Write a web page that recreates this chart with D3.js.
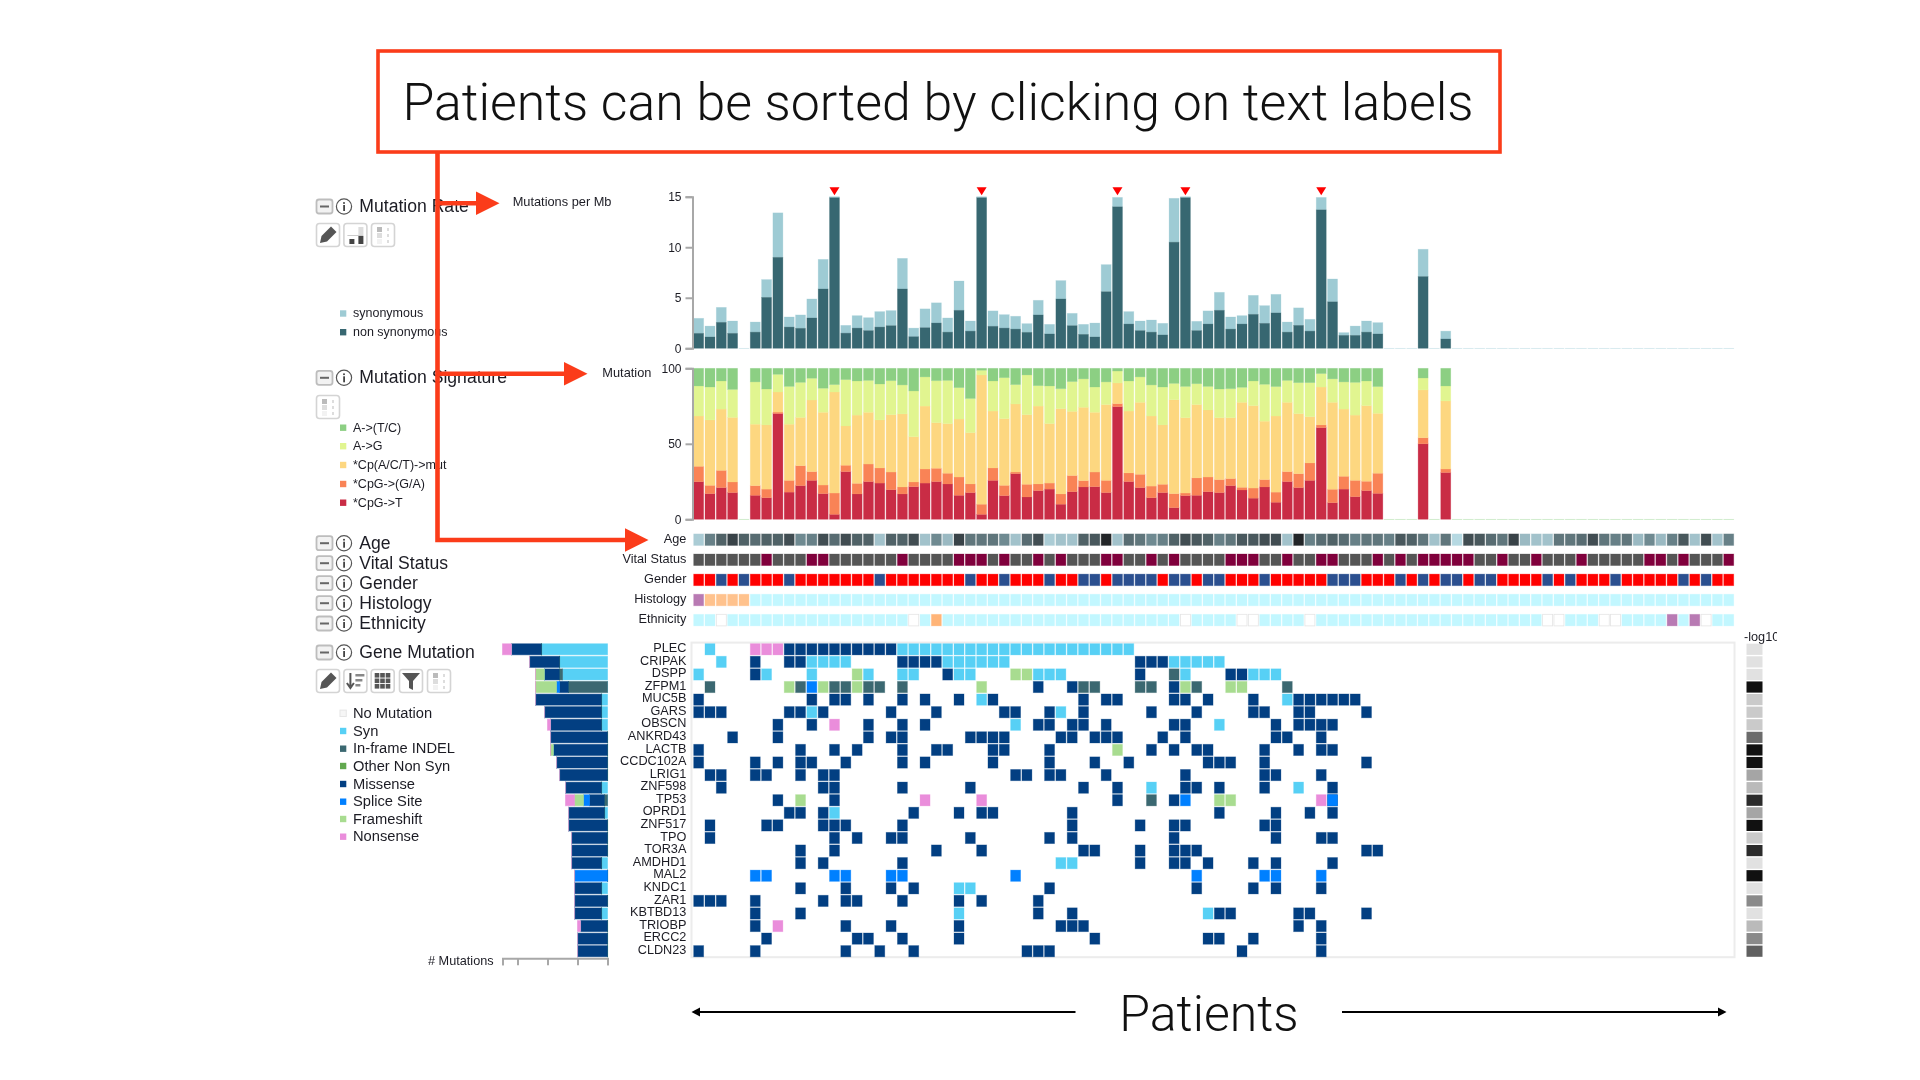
<!DOCTYPE html>
<html><head><meta charset="utf-8">
<script src="https://cdn.jsdelivr.net/npm/d3@7/dist/d3.min.js"></script>
<style>html,body{margin:0;padding:0;background:#fff}svg{display:block}text{font-family:"Liberation Sans",Arial,sans-serif;fill:#1c1c24}.ov text{font-family:Roboto,"Liberation Sans",sans-serif;font-weight:300;fill:#111}</style>
</head><body><div id="c"></div>
<script>
// ---------- data ----------
const patientCount = 92;
const rateNonSyn = [1.48,1.12,2.57,1.48,0,1.6,5.04,9.0,2.1,1.98,3.0,5.87,14.9,1.5,2.0,1.75,2.1,2.24,5.87,1.15,2.04,2.5,1.6,3.76,1.7,14.9,2.18,2.0,1.9,1.58,3.3,1.42,4.88,2.24,1.38,1.12,5.6,14.0,2.4,1.75,1.6,1.32,10.5,14.9,1.75,2.4,3.76,1.9,2.4,3.36,2.47,3.5,1.6,2.27,1.7,13.7,4.6,1.28,1.28,1.6,1.42,0,0,0,7.1,0,0.92];
const rateTotal = [2.97,2.2,4.05,2.7,0,2.6,6.8,13.4,3.1,3.3,4.88,8.8,15,2.27,3.23,3.03,3.63,3.73,8.9,2.0,3.9,4.5,3.0,6.66,2.7,15,3.7,3.33,3.17,2.44,4.75,2.37,6.7,3.46,2.37,2.5,8.28,14.93,3.63,2.7,2.8,2.47,14.84,15,2.67,3.7,5.54,3.1,3.23,5.24,4.22,5.34,2.6,4.0,2.87,14.93,6.86,1.55,2.2,2.7,2.54,0,0,0,9.8,0,1.7];
const hyperMutated = [12,25,37,43,55];
const sigCumCpGT = [24.9,17,21,17.7,0,15.9,14.3,70,18,22.3,25.8,17,3.3,31.6,16.8,25,24,19.6,16.8,21.6,24,25,23.4,15.9,17.7,3.3,25.8,15.7,30.2,14.8,19,20,10,18.3,21.4,21.6,17.7,74.6,25,21,14.3,17.7,7.7,15.7,15.9,18.3,17.7,22.3,19.4,14,21.4,11.3,25,21,25.8,60.7,11,20,15,19,17.2,0,0,0,50,0,31];
const sigCumCpGGA = [35.1,22.5,32.4,24.7,0,22.3,20,71,25.8,35.5,31.6,22.7,17.4,35.8,23.8,36.6,34,31.3,21.4,24.7,33.3,33.8,30.5,28,23.4,10,34,22.5,31.3,23.2,23.4,24,16.8,29,25.6,31.3,25.8,76.6,30.7,29.8,22,23.2,17,17.4,27.4,28,26.3,27,21.2,20.7,26.3,18,31.6,30.2,37.3,62.5,19.9,28.5,25.8,25.2,30.5,0,0,0,54,0,33.3];
const sigCumCpMut = [68.4,65.8,73,67.5,0,63,62.5,84.3,63,67.5,79,70.9,84.3,61.8,69,70.9,65.8,69.3,69.8,54.7,75,64,63.4,66.4,57.4,95.6,71.7,66.7,76.4,69.3,75,63.4,73.3,71.5,74.2,70.9,76,90.3,71.7,77.5,68.4,62.5,79.2,67.3,76,72.4,67.3,67.3,77.5,75.3,65,68.4,77.5,70,68,87.6,77.5,73,69,75.3,70.2,0,0,0,85.7,0,78.4];
const sigCumAG = [88.3,87.6,91.6,86,0,91,86.3,96,88,90.7,93.4,86.8,89.2,92.5,91.6,92,89.6,91.8,89,85,94.3,91.8,92,87.2,80,98.7,91.6,93.8,89.2,95.6,88.5,88.3,86.5,91.2,93,87.6,91,98.2,91.6,94.3,89,87.6,90,88,89.8,88,86.3,86.5,87.4,91.6,89.4,87.9,92,90.5,90.5,96.5,93,91,90.7,91.6,87.9,0,0,0,93.6,0,88.3];
const ageShade = [.15,.55,.7,.85,.7,.65,.7,.7,.8,.5,.55,.8,.65,.8,.7,.7,.2,.7,.7,.8,.2,.5,.25,.85,.6,.6,.6,.5,.2,.65,.8,.15,.2,.2,.7,.75,1,.2,.65,.6,.5,.55,.7,.8,.75,.7,.55,.6,.75,.75,.8,.8,.2,1,.55,.65,.7,.65,.55,.6,.6,.55,.75,.7,.6,.2,.6,.08,.8,.75,.65,.6,.85,.25,.2,.2,.6,.6,.65,.8,.6,.55,.6,.25,.5,.25,.55,.75,.2,.8,.2,.55];
const vitalDeceased = [6,10,11,18,23,24,25,27,30,32,36,37,40,42,47,48,49,52,55,56,60,62,64,65,66,67,68,71,74,78,84,85,87,91];
const genderMale = [2,4,8,16,24,27,31,34,35,37,38,39,40,42,43,45,46,50,56,57,58,62,64,66,67,69,70,75,77,81,87,89];
const histologyPurple = [0];
const histologyPeach = [1,2,3,4];
const ethnicityBlank = [2,19,43,48,49,54,75,76,80,81,89];
const ethnicityPeach = [21];
const ethnicityPurple = [86,88];
const annotationRows = ["Age","Vital Status","Gender","Histology","Ethnicity"];
const genes = ["PLEC","CRIPAK","DSPP","ZFPM1","MUC5B","GARS","OBSCN","ANKRD43","LACTB","CCDC102A","LRIG1","ZNF598","TP53","OPRD1","ZNF517","TPO","TOR3A","AMDHD1","MAL2","KNDC1","ZAR1","KBTBD13","TRIOBP","ERCC2","CLDN23"];
// S syn, I in-frame indel, O other, M missense, P splice site, F frameshift, N nonsense; "type:col,col,..."
const geneMutations = [
"S:1,18,19,20,21,22,23,24,25,26,27,28,29,30,31,32,33,34,35,36,37,38 N:5,6,7 M:8,9,10,11,12,13,14,15,16,17",
"S:2,10,11,12,13,22,23,24,25,26,27,42,43,44,45,46 M:5,8,9,18,19,20,21,39,40,41",
"S:0,6,10,15,18,19,23,24,30,31,32,43,49,50,51 M:5,22,39,47,48 F:14,28,29 I:42",
"I:1,9,12,13,15,16,18,34,35,39,40,44,52 F:8,11,14,25,43,47,48 P:10 M:30,33,42",
"M:0,10,12,13,15,18,20,23,26,34,36,37,42,43,45,49,53,54,55,56,57,58 S:25,52",
"M:0,1,2,8,9,11,17,21,27,28,31,34,40,44,49,50,53,54,59 S:10,32",
"M:7,10,15,18,20,30,31,33,34,36,42,43,51,53,54,55,56 N:12 S:28,46",
"M:3,7,15,17,18,24,25,26,27,32,33,35,36,37,41,43,51,52,55",
"M:0,9,12,14,18,21,22,26,27,31,40,42,44,45,50,53,55,56 F:37",
"M:0,5,7,9,10,13,18,20,26,31,35,38,45,46,47,50,59",
"M:1,2,5,6,9,11,12,28,29,31,32,36,43,50,51,55",
"M:2,11,12,18,24,34,37,43,44,46,50,56 S:40,53",
"M:7,12,37,42,56 F:9,46,47 N:20,25,55 I:40 P:43,56",
"M:8,9,11,19,23,25,26,33,46,51,54,56 S:12",
"M:1,6,7,11,12,13,18,33,39,42,43,50,51",
"M:1,12,14,17,18,24,31,33,42,51,55,56",
"M:9,12,21,25,34,35,39,42,43,44,59,60",
"M:9,11,18,39,42,43,45,49,51,56 S:32,33",
"P:5,6,12,13,17,18,28,44,50,51,55",
"M:9,13,17,19,31,44,49,51,55 S:23,24",
"M:0,1,2,5,11,13,14,18,23,25,30",
"M:5,9,30,33,46,47,53,54,59 S:23,45",
"M:5,13,17,23,32,33,34,53,55 N:7",
"M:6,14,15,18,23,35,45,46,49,55",
"M:0,5,13,16,19,29,30,31,48,55"
];
const minusLog10 = [.1,.1,.1,8,1,1,1,4.6,8,8,2.4,1.6,7,2.4,8,1,7,.1,8,.1,3.4,.1,1.6,3.4,5];
const mutationTypes = ["S","I","O","M","P","F","N"];
const mutationColors = ["#57d0f5","#3b6871","#62a84f","#023f82","#0080ff","#a8dc90","#ea8ddb"];
const mutationLegend = ["No Mutation","Syn","In-frame INDEL","Other Non Syn","Missense","Splice Site","Frameshift","Nonsense"];
const mutationLegendColors = ["#f6f6f6","#57d0f5","#3b6871","#62a84f","#023f82","#0080ff","#a8dc90","#ea8ddb"];
const rateLegend = ["synonymous","non synonymous"];
const rateColors = ["#9ecbd4","#376771"];
const sigLegend = ["A->(T/C)","A->G","*Cp(A/C/T)->mut","*CpG->(G/A)","*CpG->T"];
const sigColors = ["#8ccf83","#e1f590","#fdd780","#f98356","#c92c45"];
const mutationCountTicks = [35,30,20,10,0];

// ---------- helpers ----------
const W = 1920, H = 1080;
const svg = d3.select("#c").append("svg").attr("width",W).attr("height",H);
svg.append("defs").append("clipPath").attr("id","logclip").append("rect").attr("x",1740).attr("y",625).attr("width",37).attr("height",24);
const chart = svg.append("g").style("filter","blur(0.45px)");
const patients = d3.range(patientCount);
const x = d3.scaleBand().domain(patients).range([693,1734.4]);
const inset = 0.66, cellW = x.bandwidth()-2*inset;
const yRate = d3.scaleLinear().domain([0,15]).range([348.3,196.7]);
const ySig = d3.scaleLinear().domain([0,100]).range([519.3,368.3]);
const yAnn = d3.scaleBand().domain(annotationRows).range([529.65,630.15]);
const yGene = d3.scaleBand().domain(genes).range([643,957.5]);
const xCount = d3.scaleLinear().domain([0,35]).range([607.5,502.5]);
const val = (a,i)=>a[i]===undefined?0:a[i];

function label(g,t,px,py,size,anchor){
  return g.append("text").attr("x",px).attr("y",py).attr("dy",".35em").attr("font-size",size).attr("text-anchor",anchor||"start").text(t);
}
function styleAxis(g){
  g.selectAll(".domain,.tick line").attr("stroke","#a8a8a8").attr("stroke-width",2);
  g.selectAll("text").attr("font-size",12).style("font-family",'"Liberation Sans",sans-serif').attr("fill","#1c1c24");
}
function layer(data,color,y0,y1,scale){
  chart.append("g").selectAll("rect").data(data).join("rect")
    .attr("x",d=>x(d)+inset).attr("width",cellW)
    .attr("y",d=>scale(y1(d))).attr("height",d=>Math.max(0.2,scale(y0(d))-scale(y1(d))))
    .attr("fill",color).attr("stroke",color).attr("stroke-opacity",.35).attr("stroke-width",.7);
}

// ---------- mutation rate ----------
layer(patients,rateColors[0],i=>val(rateNonSyn,i),i=>val(rateTotal,i),yRate);
layer(patients.filter(i=>val(rateNonSyn,i)>0),rateColors[1],()=>0,i=>val(rateNonSyn,i),yRate);
chart.append("g").attr("transform","translate(692.5,0)")
  .call(d3.axisLeft(yRate).tickValues([0,5,10,15]).tickSize(7).tickPadding(4)).call(styleAxis);
chart.append("g").selectAll("path").data(hyperMutated).join("path")
  .attr("d",d=>{const c=x(d)+x.bandwidth()/2,t=yRate(15);return `M${c-5},${t-9.5}L${c+5},${t-9.5}L${c},${t-1.5}Z`;})
  .attr("fill","#ff0000");

// ---------- mutation signature ----------
const present = patients.filter(i=>val(sigCumCpGT,i)>0);
const absent = patients.filter(i=>val(sigCumCpGT,i)===0);
const sigBounds = [()=>0,i=>val(sigCumCpGT,i),i=>val(sigCumCpGGA,i),i=>val(sigCumCpMut,i),i=>val(sigCumAG,i),()=>100];
[4,3,2,1,0].forEach((k,n)=>layer(present,sigColors[k],sigBounds[n],sigBounds[n+1],ySig));
layer(absent,sigColors[0],()=>0,()=>0,ySig);
chart.append("g").attr("transform","translate(692.5,0)")
  .call(d3.axisLeft(ySig).tickValues([0,50,100]).tickSize(7).tickPadding(4)).call(styleAxis);

// ---------- annotation tracks ----------
const ageColor = d3.scaleLinear().domain([0,.5,1]).range(["#c4e8f2","#6f8a91","#222528"]);
const annColor = {
  "Age": i=>ageColor(ageShade[i]),
  "Vital Status": i=>vitalDeceased.includes(i)?"#80003c":"#555555",
  "Gender": i=>genderMale.includes(i)?"#2b4f8f":"#ff0000",
  "Histology": i=>histologyPurple.includes(i)?"#b87ab3":histologyPeach.includes(i)?"#ffc28d":"#c2f7ff",
  "Ethnicity": i=>ethnicityBlank.includes(i)?"#ffffff":ethnicityPeach.includes(i)?"#ffb477":ethnicityPurple.includes(i)?"#b87ab3":"#c2f7ff"
};
annotationRows.forEach(r=>{
  chart.append("g").selectAll("rect").data(patients).join("rect")
    .attr("x",i=>x(i)+inset).attr("width",cellW)
    .attr("y",yAnn(r)+(yAnn.bandwidth()-11.6)/2).attr("height",11.6)
    .attr("fill",annColor[r])
    .attr("stroke",i=>annColor[r](i)==="#ffffff"?"#e4e4e4":annColor[r](i))
    .attr("stroke-opacity",i=>annColor[r](i)==="#ffffff"?1:.35).attr("stroke-width",.8);
  label(chart,r,686.4,yAnn(r)+yAnn.bandwidth()/2-1.5,12.7,"end");
});

// ---------- gene matrix ----------
const cells = geneMutations.map(s=>s.split(" ").flatMap(p=>{
  const [t,list]=p.split(":");return list.split(",").map(c=>({type:t,col:+c}));}));
const colorOf = d3.scaleOrdinal().domain(mutationTypes).range(mutationColors);
chart.append("rect").attr("x",691.5).attr("y",642.6).attr("width",1043).attr("height",314.6).attr("fill","#fff").attr("stroke","#ececec").attr("stroke-width",2);
genes.forEach((g,r)=>{
  const yy=yGene(g);
  chart.append("g").selectAll("rect").data(cells[r]).join("rect")
    .attr("x",d=>x(d.col)+inset).attr("width",cellW)
    .attr("y",yy+.65).attr("height",yGene.bandwidth()-1.3)
    .attr("fill",d=>colorOf(d.type)).attr("stroke",d=>colorOf(d.type)).attr("stroke-opacity",.35).attr("stroke-width",.8);
  label(chart,g,686.4,yy+yGene.bandwidth()/2-1.8,12.7,"end");
  // left count bars
  let acc=0;
  mutationTypes.forEach(t=>{
    const n=cells[r].filter(c=>c.type===t).length;
    chart.append("rect").attr("x",xCount(acc+n)).attr("width",Math.max(.1,xCount(acc)-xCount(acc+n)))
      .attr("y",yy+.8).attr("height",yGene.bandwidth()-1.6)
      .attr("fill",colorOf(t)).attr("stroke",colorOf(t)).attr("stroke-width",.9).attr("stroke-opacity",.6);
    acc+=n;
  });
});
chart.append("g").attr("transform","translate(0,958.3)")
  .call(d3.axisBottom(xCount).tickValues(mutationCountTicks).tickSize(7).tickFormat("")).call(styleAxis);
label(chart,"# Mutations",493.6,960.5,12.7,"end");

// -log10 strip
const grey = d3.scaleLinear().domain([0,8]).range(["#e4e4e4","#111111"]);
chart.append("g").selectAll("rect").data(genes).join("rect")
  .attr("x",1746.5).attr("width",16).attr("y",g=>yGene(g)+.7).attr("height",yGene.bandwidth()-1.4)
  .attr("fill",(g,i)=>grey(minusLog10[i]));
label(chart,"-log10",1744,637,12.7).attr("clip-path","url(#logclip)");

// ---------- left panel ----------
function button(px,py){
  const b=chart.append("g").attr("transform",`translate(${px},${py})`);
  b.append("rect").attr("x",.5).attr("y",.5).attr("width",23).attr("height",23).attr("rx",3).attr("fill","#fff").attr("stroke","#d4d4d4").attr("stroke-width",1.6);
  return b;
}
const iconPencil=b=>{b.append("path").attr("d","M4,20L5.5,13L15,3.5L20.5,9L11,18.5Z").attr("fill","#555");};
const iconBars=b=>{b.append("rect").attr("x",6).attr("y",16).attr("width",5).attr("height",5).attr("fill","#444");b.append("rect").attr("x",15).attr("y",13).attr("width",5).attr("height",8).attr("fill","#444");b.append("rect").attr("x",15).attr("y",4).attr("width",5).attr("height",8).attr("fill","#ddd");b.append("rect").attr("x",4).attr("y",12).attr("width",16).attr("height",1).attr("fill","#ccc");};
const iconLegend=b=>{[["#bbb",4],["#ddd",10],["#f2f2f2",16]].forEach(([c,yy])=>{b.append("rect").attr("x",6).attr("y",yy).attr("width",5).attr("height",5).attr("fill",c);b.append("rect").attr("x",16).attr("y",yy+1).attr("width",2).attr("height",3).attr("fill","#ddd");});};
const iconSort=b=>{b.append("path").attr("d","M7,4V17M3.5,14L7,19L10.5,14").attr("fill","none").attr("stroke","#555").attr("stroke-width",2);[[12,5,9],[12,10,7],[12,15,5]].forEach(([a,c,w])=>b.append("rect").attr("x",a).attr("y",c).attr("width",w).attr("height",2.5).attr("fill","#888"));};
const iconGrid=b=>{for(let i=0;i<3;i++)for(let j=0;j<3;j++)b.append("rect").attr("x",4+i*5.5).attr("y",4+j*5.5).attr("width",4.6).attr("height",4.6).attr("fill","#555");};
const iconFunnel=b=>{b.append("path").attr("d","M3,4H21L14,12V21L10,19V12Z").attr("fill","#555");};
function header(t,yc){
  chart.append("rect").attr("x",316.5).attr("y",yc-6.5).attr("width",16).attr("height",14).attr("rx",2.5).attr("fill","#f2f2f2").attr("stroke","#bdbdbd").attr("stroke-width",1.8);
  chart.append("rect").attr("x",320).attr("y",yc-.5).attr("width",9).attr("height",2).attr("fill","#666");
  chart.append("circle").attr("cx",344).attr("cy",yc+.5).attr("r",7.6).attr("fill","#fff").attr("stroke","#555").attr("stroke-width",1.2);
  chart.append("circle").attr("cx",344).attr("cy",yc-3).attr("r",1).attr("fill","#444");
  chart.append("rect").attr("x",343.2).attr("y",yc-1).attr("width",1.8).attr("height",6).attr("fill","#444");
  label(chart,t,359.3,yc,17.6);
}
[["Mutation Rate",206],["Mutation Signature",377.3],["Age",542.7],["Vital Status",562.7],["Gender",582.7],["Histology",602.7],["Ethnicity",623],["Gene Mutation",652]].forEach(d=>header(d[0],d[1]));
[[316,iconPencil],[343.4,iconBars],[371,iconLegend]].forEach(d=>d[1](button(d[0],223)));
iconLegend(button(316,395));
[[316,iconPencil],[343.4,iconSort],[370.7,iconGrid],[399,iconFunnel],[427,iconLegend]].forEach(d=>d[1](button(d[0],669)));
function legend(names,colors,ys,size){
  names.forEach((n,i)=>{
    chart.append("rect").attr("x",340).attr("y",ys[i]-3.2).attr("width",6.3).attr("height",6.4).attr("fill",colors[i]).attr("stroke",i===0&&n==="No Mutation"?"#e6e6e6":"none");
    label(chart,n,353,ys[i]-.5,size);
  });
}
legend(rateLegend,rateColors,[313.5,332.2],12.5);
legend(sigLegend,sigColors,[427.7,446.2,465,484,502.7],12.5);
legend(mutationLegend,mutationLegendColors,[713.3,731,748.7,766,784,801.7,819,836.7],14.7);
label(chart,"Mutations per Mb",611.5,202,12.8,"end");
label(chart,"Mutation",651.4,373,12.8,"end");

// ---------- overlay annotations ----------
const ov = svg.append("g").attr("class","ov");
const red="#fb3c1a";
ov.append("rect").attr("x",378).attr("y",51).attr("width",1122).attr("height",101).attr("fill","none").attr("stroke",red).attr("stroke-width",3.6);
ov.append("text").attr("x",938).attr("y",120).attr("text-anchor","middle").attr("font-size",51.8).text("Patients can be sorted by clicking on text labels");
ov.append("path").attr("d","M437.5,152V540H625").attr("fill","none").attr("stroke",red).attr("stroke-width",4.6);
ov.append("path").attr("d","M437.5,203.3H476M437.5,373.7H564").attr("fill","none").attr("stroke",red).attr("stroke-width",4.6);
[[476,203.3],[564,373.7],[625,540]].forEach(([a,b])=>ov.append("path").attr("d",`M${a},${b-11.8}L${a+23.5},${b}L${a},${b+11.8}Z`).attr("fill",red));
ov.append("text").attr("x",1209).attr("y",1030.7).attr("text-anchor","middle").attr("font-size",50).text("Patients");
ov.append("path").attr("d","M696,1012H1075.5M1342,1012H1722").attr("stroke","#000").attr("stroke-width",2.2);
ov.append("path").attr("d","M691.5,1012L700,1007.5V1016.5Z").attr("fill","#000");
ov.append("path").attr("d","M1726.5,1012L1718,1007.5V1016.5Z").attr("fill","#000");
</script></body></html>
